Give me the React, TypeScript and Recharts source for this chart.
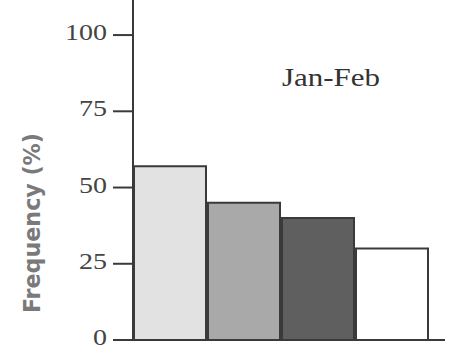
import { Bar, BarChart, Cell, XAxis, YAxis } from "recharts";

const groups = ["g1", "g2", "g3", "g4"];
const frequency = [57, 45, 40, 30];
const fills = ["#e2e2e2", "#a9a9a9", "#5f5f5f", "#ffffff"];
const yTicks = [0, 25, 50, 75, 100];
const periodLabel = "Jan-Feb";
const yTitle = "Frequency (%)";

const data = groups.map((g, i) => ({ name: g, value: frequency[i] }));

const ink = "#3a3a3a";

function YTick(props: any) {
  const { x, y, payload } = props;
  const s = String(payload.value);
  return (
    <text
      x={x}
      y={y + 5}
      textAnchor="end"
      fill="#444"
      fontSize={23}
      fontFamily="Liberation Serif"
      textLength={s.length * 14}
      lengthAdjust="spacingAndGlyphs"
    >
      {s}
    </text>
  );
}

export default function App() {
  return (
    <div style={{ position: "absolute", left: 0, top: 0, width: 451, height: 351, background: "#fff" }}>
      <BarChart
        width={451}
        height={351}
        data={data}
        margin={{ top: 0, right: 6, bottom: 10, left: 0 }}
        barCategoryGap={1}
      >
        <XAxis
          dataKey="name"
          tick={false}
          tickLine={false}
          height={1}
          padding={{ left: 0, right: 16 }}
          axisLine={{ stroke: ink, strokeWidth: 2 }}
        />
        <YAxis
          width={133}
          domain={[0, 111.5]}
          ticks={yTicks}
          interval={0}
          allowDataOverflow
          tickSize={20}
          tickMargin={6}
          axisLine={{ stroke: ink, strokeWidth: 2 }}
          tickLine={{ stroke: ink, strokeWidth: 2 }}
          tick={<YTick />}
        />
        <Bar dataKey="value" isAnimationActive={false} stroke={ink} strokeWidth={2}>
          {data.map((d, i) => (
            <Cell key={d.name} fill={fills[i]} />
          ))}
        </Bar>
        <text
          x={282}
          y={86}
          fill="#333"
          fontSize={25}
          fontFamily="Liberation Serif"
          textLength={98}
          lengthAdjust="spacingAndGlyphs"
        >
          {periodLabel}
        </text>
        <text
          x={0}
          y={0}
          transform="translate(40 313) rotate(-90)"
          fill="#7a7a7a"
          fontSize={23}
          fontWeight={700}
          fontFamily="DejaVu Sans Condensed, DejaVu Sans"
          textLength={180}
          lengthAdjust="spacingAndGlyphs"
        >
          {yTitle}
        </text>
      </BarChart>
    </div>
  );
}
